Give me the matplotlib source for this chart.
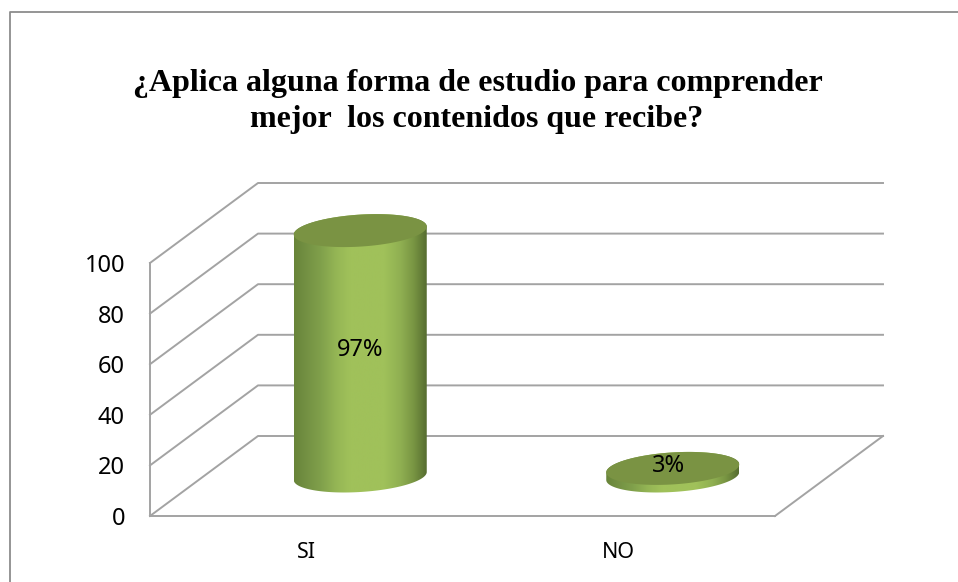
import numpy as np
import matplotlib
matplotlib.use("Agg")
import matplotlib.pyplot as plt
from matplotlib.colors import LinearSegmentedColormap
from matplotlib.lines import Line2D
from matplotlib.patches import Polygon

# ==== Data
categories = ["SI", "NO"]
values = [97, 3]
value_labels = ["97%", "3%"]
y_ticks = [0, 20, 40, 60, 80, 100]
title_lines = ["¿Aplica alguna forma de estudio para comprender",
               "mejor  los contenidos que recibe?"]

# ==== Layout (pixels of the 958x582 picture)
W, H = 958, 582
AX_L, AX_R, AX_B, AX_T = 150, 775, 516, 263
PX_X = (AX_R - AX_L) / len(categories)    # px per category
PX_Y = (AX_B - AX_T) / 100                # px per value unit

# fake 3D : depth of the floor, radius of the cylinders, in data units
DEPTH_X = 108 / PX_X
DEPTH_Y = 80 / PX_Y
RAD_X = 66.5 / PX_X
RAD_Y = 16 / PX_Y
SKEW = 4 / PX_Y

GRID = "#a3a3a3"
TOP_COLOR = "#7a9343"
body_cmap = LinearSegmentedColormap.from_list(
    "body", [(0, "#688439"), (0.08, "#728f42"), (0.2, "#80a04b"), (0.32, "#95b655"),
             (0.42, "#a0c15a"), (0.68, "#a0c15a"), (0.8, "#90b052"), (0.9, "#799643"),
             (1, "#566d30")])


def ellipse(cx, cy, t):
    return cx + RAD_X * np.cos(t), cy + RAD_Y * np.sin(t) + SKEW * np.cos(t)


fig = plt.figure(figsize=(W / 100, H / 100), dpi=100)
ax = fig.add_axes([AX_L / W, 1 - AX_B / H, (AX_R - AX_L) / W, (AX_B - AX_T) / H])
ax.set_xlim(0, len(categories))
ax.set_ylim(0, 100)

# axes and ticks
for side in ["top", "right"]:
    ax.spines[side].set_visible(False)
for side in ["left", "bottom"]:
    ax.spines[side].set_color(GRID)
    ax.spines[side].set_linewidth(1.4)
ax.set_facecolor("none")
ax.set_yticks(y_ticks)
ax.set_xticks(np.arange(len(categories)) + 0.5)
ax.set_xticklabels(categories)
ax.tick_params(axis="y", length=0, pad=18, labelsize=17, labelfontfamily="Noto Sans")
ax.tick_params(axis="x", length=0, pad=19, labelsize=15.5, labelfontfamily="Noto Sans")

# walls
n = len(categories)
for v in y_ticks:
    ax.plot([0, DEPTH_X, n + DEPTH_X], [v, v + DEPTH_Y, v + DEPTH_Y],
            color=GRID, lw=1.4, clip_on=False, zorder=1)
ax.plot([n, n + DEPTH_X], [0, DEPTH_Y], color=GRID, lw=1.4, clip_on=False, zorder=1)

# cylinders
grad = np.linspace(0, 1, 256).reshape(1, -1)
label_shift = [1.2, 2.4]
for i, v in enumerate(values):
    cx = i + 0.5 + DEPTH_X / 2
    base = DEPTH_Y / 2
    low_x, low_y = ellipse(cx, base, np.linspace(np.pi, 2 * np.pi, 80))
    up_x, up_y = ellipse(cx, base + v, np.linspace(0, np.pi, 80))
    outline = Polygon(np.column_stack([np.r_[low_x, up_x], np.r_[low_y, up_y]]),
                      closed=True, transform=ax.transData, fc="none", ec="none")
    ax.add_patch(outline)
    outline.set_clip_on(False)
    im = ax.imshow(grad, cmap=body_cmap, aspect="auto", zorder=3,
                   extent=[cx - RAD_X, cx + RAD_X, base - RAD_Y - SKEW, base + v + RAD_Y + SKEW])
    im.set_clip_box(fig.bbox)
    im.set_clip_path(outline)

    top_x, top_y = ellipse(cx, base + v, np.linspace(0, 2 * np.pi, 160))
    ax.fill(top_x, top_y, color=TOP_COLOR, lw=0, zorder=4, clip_on=False)

    ypos = base + v / 2 + label_shift[i]
    xpos = cx - (0 if v > 50 else 4.5 / PX_X)
    ax.text(xpos, ypos, value_labels[i], ha="center", va="center", fontsize=17,
            family="Noto Sans", color="black", zorder=5)

ax.set_xlim(0, n)
ax.set_ylim(0, 100)

# title
fig.text(477.5 / W, 1 - 91 / H, title_lines[0], ha="center", va="baseline",
         family="Liberation Serif", weight="bold", fontsize=23.05)
fig.text(477 / W, 1 - 127 / H, title_lines[1], ha="center", va="baseline",
         family="Liberation Serif", weight="bold", fontsize=23.05)

# chart area frame, the picture cuts it on the right and at the bottom
fx = np.array([10, 10, W]) / W
fy = 1 - np.array([H, 11.5, 11.5]) / H
fig.add_artist(Line2D(fx, fy, color="#8c8c8c", lw=1.3))

fig.savefig("out.png", dpi=100)
